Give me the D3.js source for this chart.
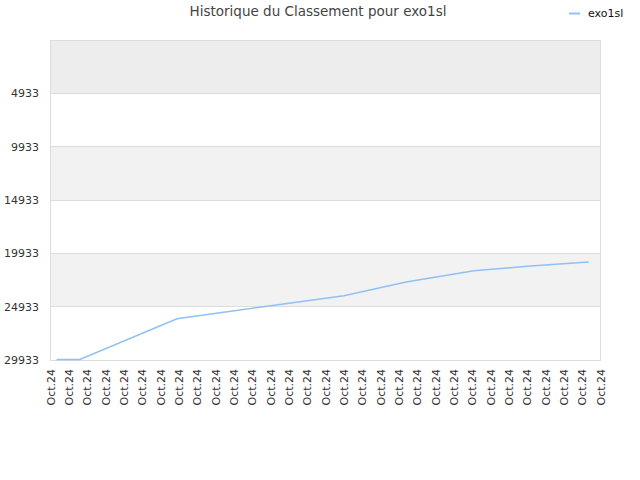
<!DOCTYPE html>
<html>
<head>
<meta charset="utf-8">
<script src="https://cdn.jsdelivr.net/npm/d3@7/dist/d3.min.js"></script>
<style>
  body { margin: 0; background: #fff; }
  svg { font-family: "DejaVu Sans", sans-serif; }
</style>
</head>
<body>
<svg id="chart" width="640" height="480"></svg>
<script>
(function () {

    // 31 daily ticks, all labelled the same
    var tickLabels = d3.range(31).map(function () { return "Oct.24"; }),
        yTicks = [4933, 9933, 14933, 19933, 24933, 29933],
        // day offsets (fractional, data taken at various hours) and ranks
        days = [0.33, 1.6, 6.9, 11.5, 16.0, 19.4, 23.1, 26.0, 29.35],
        ranks = [29890, 29890, 26060, 24960, 23900, 22620, 21560, 21150, 20740];

    var svg = d3.select("#chart"),
        left = 50.5, right = 600.5, top = 40, bottom = 360;

    var x = d3.scaleLinear().domain([0, 30]).range([left, right]),
        y = d3.scaleLinear().domain([-67, 29933]).range([top, bottom]);

    // bands
    var edges = [-67].concat(yTicks);
    var bandFill = ["#ededed", "#ffffff", "#f2f2f2", "#ffffff", "#f2f2f2", "#ffffff"];
    svg.append("g").selectAll("rect")
        .data(d3.pairs(edges))
        .enter().append("rect")
            .attr("x", left)
            .attr("y", function (d) { return y(d[0]); })
            .attr("width", right - left)
            .attr("height", function (d) { return y(d[1]) - y(d[0]); })
            .attr("fill", function (d, i) { return bandFill[i]; });

    // gridlines
    svg.append("g").selectAll("line")
        .data(yTicks)
        .enter().append("line")
            .attr("x1", left).attr("x2", right)
            .attr("y1", function (d) { return Math.floor(y(d)) + 0.5; })
            .attr("y2", function (d) { return Math.floor(y(d)) + 0.5; })
            .attr("stroke", "#dddddd");

    svg.append("rect")
        .attr("x", left).attr("y", top + 0.5)
        .attr("width", right - left).attr("height", bottom - top)
        .attr("fill", "none").attr("stroke", "#dddddd");

    // y labels
    svg.append("g").selectAll("text")
        .data(yTicks)
        .enter().append("text")
            .attr("x", 39)
            .attr("y", function (d) { return y(d) + 4; })
            .attr("text-anchor", "end")
            .attr("font-size", 11)
            .attr("fill", "#333")
            .text(function (d) { return d; });

    // x labels
    svg.append("g").selectAll("text")
        .data(tickLabels)
        .enter().append("text")
            .attr("transform", function (d, i) {
                return "translate(" + (x(i) + 4) + ",369) rotate(-90)";
            })
            .attr("text-anchor", "end")
            .attr("font-size", 11)
            .attr("fill", "#333")
            .text(function (d) { return d; });

    // the line
    var line = d3.line()
        .x(function (d) { return x(d[0]); })
        .y(function (d) { return y(d[1]); });

    svg.append("path")
        .datum(d3.zip(days, ranks))
        .attr("d", line)
        .attr("fill", "none")
        .attr("stroke", "#90c0f4")
        .attr("stroke-width", 1.5);

    // title
    svg.append("text")
        .attr("x", 318).attr("y", 16)
        .attr("text-anchor", "middle")
        .attr("font-size", 13.5)
        .attr("fill", "#444")
        .text("Historique du Classement pour exo1sl");

    // legend
    svg.append("line")
        .attr("x1", 569).attr("x2", 580)
        .attr("y1", 13.5).attr("y2", 13.5)
        .attr("stroke", "#90c0f4").attr("stroke-width", 2);
    svg.append("text")
        .attr("x", 588).attr("y", 17)
        .attr("font-size", 11)
        .attr("fill", "#111")
        .text("exo1sl");

}());
</script>
</body>
</html>
